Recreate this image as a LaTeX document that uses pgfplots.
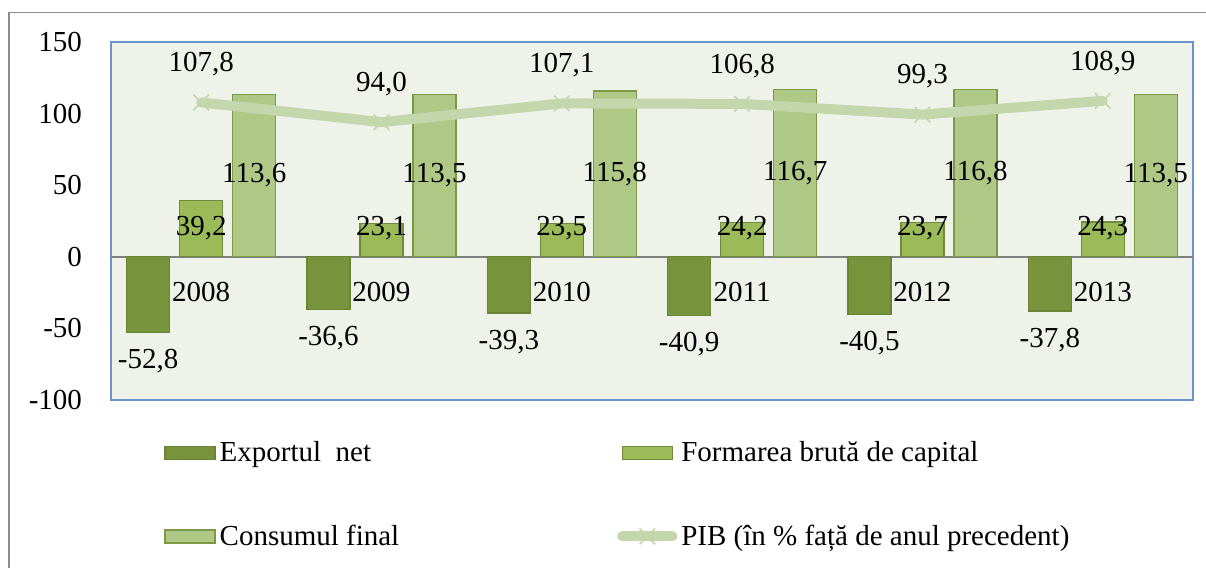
\documentclass[border=0pt]{standalone}
\usepackage{pgfplots}
\pgfplotsset{compat=1.18}
\usepackage{fontspec}
\setmainfont{Liberation Serif}
\newfontfamily\timesfont{Liberation Serif}
\definecolor{cExp}{HTML}{77933C}
\definecolor{cExpB}{HTML}{6A8434}
\definecolor{cForm}{HTML}{9BBB59}
\definecolor{cFormB}{HTML}{71893F}
\definecolor{cCons}{HTML}{AFC886}
\definecolor{cConsB}{HTML}{7A9A45}
\definecolor{cLine}{HTML}{C4D6AC}
\definecolor{plotbg}{HTML}{EEF2E9}
\definecolor{plotframe}{HTML}{6C93C9}
\definecolor{outer}{HTML}{8C8C8C}

\pgfplotsset{
  barlegend/.style={legend image code/.code={\draw[##1] (0pt,-3.25pt) rectangle (25pt,3.25pt);}},
  linelegend/.style={legend image code/.code={\draw[mark repeat=2, mark phase=2, ##1] plot coordinates {(0pt,0pt) (12.5pt,0pt) (25pt,0pt)};}},
}
\newcommand{\lblfont}{\fontsize{14.5}{17}\selectfont}

\pgfplotstableread{
x y l
0 -72.9 -52,8
1 -56.7 -36,6
2 -59.4 -39,3
3 -61.0 -40,9
4 -60.6 -40,5
5 -57.9 -37,8
}\labExp
\pgfplotstableread{
x y l
0 20.0 39,2
1 20.0 23,1
2 20.0 23,5
3 20.0 24,2
4 20.0 23,7
5 20.0 24,3
}\labForm
\pgfplotstableread{
x y l
0 56.8 113,6
1 56.75 113,5
2 57.9 115,8
3 58.35 116,7
4 58.4 116,8
5 56.75 113,5
}\labCons
\pgfplotstableread{
x y l
0 107.8 107,8
1 94.0 94,0
2 107.1 107,1
3 106.8 106,8
4 99.3 99,3
5 108.9 108,9
}\pib

\begin{document}
\begin{tikzpicture}
\path[use as bounding box] (0,0) rectangle (603pt,284pt);
\draw[outer, line width=0.9pt] (4.5pt,0) -- (4.5pt,277.75pt) -- (603pt,277.75pt);
\begin{axis}[
  at={(55.5pt,84pt)}, anchor=south west,
  scale only axis, width=541pt, height=179pt,
  xmin=-0.5, xmax=5.5, ymin=-100, ymax=150,
  xtick={0,1,2,3,4,5}, xticklabels={2008,2009,2010,2011,2012,2013},
  ytick={-100,-50,0,50,100,150}, yticklabels={-100,-50,0,50,100,150},
  major tick length=0pt,
  axis background/.style={fill=plotbg},
  axis line style={plotframe, line width=0.75pt},
  tick label style={font=\lblfont, text=black},
  xticklabel style={anchor=center, yshift=54pt},
  yticklabel style={anchor=east, xshift=-11pt},
  extra y ticks={0}, extra y tick labels={},
  extra y tick style={grid=major, major grid style={gray, line width=0.9pt}},
  legend style={at={(axis description cs:0.0435,-0.265)}, anchor=west, draw=none, fill=none,
    legend columns=2, font=\lblfont,
    /tikz/every even column/.append style={column sep=107pt}, row sep=26pt},
  legend cell align=left,
]
\addplot[ybar, bar width=21.5pt, bar shift=-26.5pt, fill=cExp, draw=cExpB, line width=0.6pt, barlegend]
  coordinates {(0,-52.8) (1,-36.6) (2,-39.3) (3,-40.9) (4,-40.5) (5,-37.8)};
\addlegendentry{Exportul~ net}
\addplot[ybar, bar width=21.5pt, bar shift=0pt, fill=cForm, draw=cFormB, line width=0.6pt, barlegend]
  coordinates {(0,39.2) (1,23.1) (2,23.5) (3,24.2) (4,23.7) (5,24.3)};
\addlegendentry{Formarea brută de capital}
\addplot[ybar, bar width=21.5pt, bar shift=26.5pt, fill=cCons, draw=cConsB, line width=0.6pt, barlegend]
  coordinates {(0,113.6) (1,113.5) (2,115.8) (3,116.7) (4,116.8) (5,113.5)};
\addlegendentry{Consumul final}
\addplot[cLine, line width=5pt, line cap=round, line join=round,
  mark=x, mark size=5.5pt, mark options={line width=0.8pt, line cap=butt},
  nodes near coords, point meta=explicit symbolic,
  nodes near coords style={anchor=center, yshift=19pt, text=black, font=\lblfont},
  linelegend]
  table[x=x, y=y, meta=l] {\pib};
\addlegendentry{PIB (în \% față de anul precedent)}
\addplot[forget plot, draw=none, mark=none, nodes near coords, point meta=explicit symbolic,
  nodes near coords style={anchor=center, xshift=-26.5pt, text=black, font=\lblfont}]
  table[x=x, y=y, meta=l] {\labExp};
\addplot[forget plot, draw=none, mark=none, nodes near coords, point meta=explicit symbolic,
  nodes near coords style={anchor=center, text=black, font=\lblfont}]
  table[x=x, y=y, meta=l] {\labForm};
\addplot[forget plot, draw=none, mark=none, nodes near coords, point meta=explicit symbolic,
  nodes near coords style={anchor=center, xshift=26.5pt, text=black, font=\lblfont}]
  table[x=x, y=y, meta=l] {\labCons};
\end{axis}
\end{tikzpicture}
\end{document}
